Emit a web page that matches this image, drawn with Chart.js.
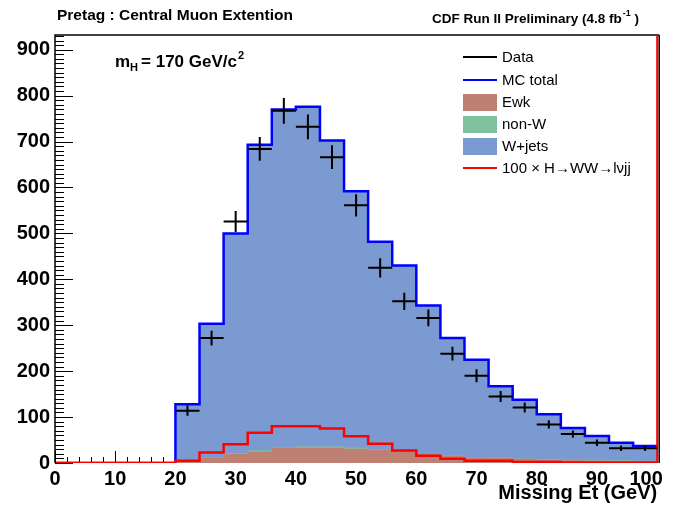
<!DOCTYPE html>
<html>
<head>
<meta charset="utf-8">
<script src="https://cdn.jsdelivr.net/npm/chart.js@4.4.0/dist/chart.umd.min.js"></script>
<style>
  html, body { margin: 0; padding: 0; background: #fff; }
</style>
</head>
<body>
<canvas id="metChart" width="689" height="508"></canvas>
<script>
// Missing Et, 4 GeV bins from 0 to 100 GeV (left bin edges)
const binEdges = [0, 4, 8, 12, 16, 20, 24, 28, 32, 36, 40, 44, 48, 52, 56, 60, 64, 68, 72, 76, 80, 84, 88, 92, 96];
const binWidth = 4;
const xMax = 100;

// stacked backgrounds, events per bin
const ewk    = [0, 0, 0, 0, 0, 3, 12, 20, 25, 33, 33, 33, 31, 29, 26, 21, 15, 12, 11, 9, 7, 6, 5, 4, 4];
const nonW   = [0, 0, 0, 0, 0, 0, 1, 2, 3, 1, 3, 3, 2, 1, 1, 1, 1, 1, 1, 1, 1, 1, 1, 2, 1];
const wjets  = [0, 0, 0, 0, 0, 125, 290, 478, 665, 736, 740, 666, 559, 452, 403, 321, 256, 212, 155, 128, 98, 69, 53, 38, 32];

// signal scaled by 100
const higgs100 = [0, 0, 0, 0, 0, 5, 23, 41, 66, 80, 80, 75, 58, 42, 27, 16, 9, 5, 5, 2, 2, 1, 1, 1, 1];

// observed events and their errors
const dataCounts = [0, 0, 0, 0, 0, 114, 272, 526, 684, 767, 732, 666, 561, 425, 352, 316, 238, 190, 145, 121, 84, 63, 44, 32, 32];
const dataErrors = [0, 0, 0, 0, 0, 11, 16, 23, 26, 28, 27, 26, 24, 21, 19, 18, 15, 14, 12, 11, 9, 8, 7, 6, 6];

const yMax = 932;

const FONT = '"Liberation Sans", Arial, Helvetica, sans-serif';

// cumulative stack: ewk, ewk+nonW, ewk+nonW+wjets
const stackEwk = ewk.slice();
const stackNonW = ewk.map((v, i) => v + nonW[i]);
const mcTotal = stackNonW.map((v, i) => v + wjets[i]);

// histogram outline: one point per left edge, plus the closing edge
function histPoints(values) {
  const pts = values.map((v, i) => ({x: binEdges[i], y: v}));
  pts.push({x: xMax, y: values[values.length - 1]});
  return pts;
}

const fillStyle = {fill: 'origin', stepped: true, pointRadius: 0, borderWidth: 0, borderColor: 'rgba(0,0,0,0)'};

// axis ticks drawn inside the frame, ROOT style
const axisTicks = {
  id: 'axisTicks',
  beforeDatasetsDraw(chart) {
    const {ctx, chartArea: a, scales: {x, y}} = chart;
    ctx.save();
    ctx.strokeStyle = '#000';
    ctx.lineWidth = 1;
    ctx.beginPath();
    for (let v = 0; v <= xMax; v += 2) {
      const px = Math.round(x.getPixelForValue(v)) + 0.5;
      const len = v % 10 === 0 ? 12 : 6;
      ctx.moveTo(px, a.bottom);
      ctx.lineTo(px, a.bottom - len);
    }
    for (let v = 0; v <= yMax; v += 10) {
      const py = Math.round(y.getPixelForValue(v)) + 0.5;
      const len = v % 100 === 0 ? 18 : 9;
      ctx.moveTo(a.left, py);
      ctx.lineTo(a.left + len, py);
    }
    ctx.stroke();
    ctx.restore();
  },
  afterDatasetsDraw(chart) {
    const {ctx, chartArea: a} = chart;
    ctx.save();
    ctx.lineWidth = 1.5;
    ctx.strokeStyle = '#000';
    ctx.beginPath();
    ctx.moveTo(a.left, a.bottom);
    ctx.lineTo(a.left, a.top);
    ctx.lineTo(a.right + 2, a.top);
    ctx.moveTo(a.right + 2, a.top);
    ctx.lineTo(a.right + 2, a.bottom);
    ctx.stroke();
    ctx.strokeStyle = '#ff0000';
    ctx.lineWidth = 2;
    ctx.beginPath();
    ctx.moveTo(a.right, a.top);
    ctx.lineTo(a.right, a.bottom);
    ctx.stroke();
    ctx.restore();
  }
};

// data points with error bars
const dataCrosses = {
  id: 'dataCrosses',
  afterDatasetsDraw(chart) {
    const {ctx, scales: {x, y}} = chart;
    ctx.save();
    ctx.strokeStyle = '#000';
    ctx.lineWidth = 2;
    ctx.beginPath();
    dataCounts.forEach((n, i) => {
      if (n <= 0) return;
      const x0 = x.getPixelForValue(binEdges[i]);
      const x1 = x.getPixelForValue(binEdges[i] + binWidth);
      const xc = x.getPixelForValue(binEdges[i] + binWidth / 2);
      const yc = y.getPixelForValue(n);
      ctx.moveTo(x0, yc);
      ctx.lineTo(x1, yc);
      ctx.moveTo(xc, y.getPixelForValue(n - dataErrors[i]));
      ctx.lineTo(xc, y.getPixelForValue(n + dataErrors[i]));
    });
    ctx.stroke();
    ctx.restore();
  }
};

// titles, mass label and legend
const annotations = {
  id: 'annotations',
  afterDraw(chart) {
    const {ctx} = chart;
    ctx.save();
    ctx.fillStyle = '#000';
    ctx.textBaseline = 'alphabetic';
    ctx.textAlign = 'left';

    ctx.font = 'bold 15.5px ' + FONT;
    ctx.fillText('Pretag : Central Muon Extention', 57, 20);

    let cx = 432;
    ctx.font = 'bold 13.5px ' + FONT;
    ctx.fillText('CDF Run II Preliminary (4.8 fb', cx, 23);
    cx += ctx.measureText('CDF Run II Preliminary (4.8 fb').width;
    ctx.font = 'bold 9px ' + FONT;
    ctx.fillText('-1', cx + 1, 16);
    cx += ctx.measureText('-1').width + 1;
    ctx.font = 'bold 13.5px ' + FONT;
    ctx.fillText(' )', cx, 23);

    let mx = 115;
    ctx.font = 'bold 17px ' + FONT;
    ctx.fillText('m', mx, 67);
    mx += ctx.measureText('m').width;
    ctx.font = 'bold 11px ' + FONT;
    ctx.fillText('H', mx, 71);
    mx += ctx.measureText('H').width + 3;
    ctx.font = 'bold 17px ' + FONT;
    ctx.fillText('= 170 GeV/c', mx, 67);
    mx += ctx.measureText('= 170 GeV/c').width;
    ctx.font = 'bold 11px ' + FONT;
    ctx.fillText('2', mx + 1, 59);

    const entries = [
      {label: 'Data', line: '#000000', y: 57},
      {label: 'MC total', line: '#0000ff', y: 80},
      {label: 'Ewk', box: '#bf8074', y: 102},
      {label: 'non-W', box: '#80c2a0', y: 124},
      {label: 'W+jets', box: '#7b9ad2', y: 146},
      {label: '100 \u00d7 H\u2192WW\u2192l\u03bdjj', line: '#ff0000', y: 168}
    ];
    ctx.font = '15px ' + FONT;
    ctx.textBaseline = 'middle';
    entries.forEach(e => {
      if (e.box) {
        ctx.fillStyle = e.box;
        ctx.fillRect(463, e.y - 8, 34, 17);
      } else {
        ctx.strokeStyle = e.line;
        ctx.lineWidth = 2;
        ctx.beginPath();
        ctx.moveTo(463, e.y);
        ctx.lineTo(497, e.y);
        ctx.stroke();
      }
      ctx.fillStyle = '#000';
      ctx.fillText(e.label, 502, e.y + 1);
    });
    ctx.restore();
  }
};

const ctx = document.getElementById('metChart').getContext('2d');
const metChart = new Chart(ctx, {
  type: 'line',
  data: {
    datasets: [
      Object.assign({label: 'W+jets', data: histPoints(mcTotal), backgroundColor: '#7b9ad2', order: 10}, fillStyle),
      Object.assign({label: 'non-W', data: histPoints(stackNonW), backgroundColor: '#80c2a0', order: 9}, fillStyle),
      Object.assign({label: 'Ewk', data: histPoints(stackEwk), backgroundColor: '#bf8074', order: 8}, fillStyle),
      {
        label: 'MC total',
        data: histPoints(mcTotal),
        borderColor: '#0000ff',
        borderWidth: 2.5,
        stepped: true,
        fill: false,
        pointRadius: 0,
        order: 5
      },
      {
        label: '100 x H->WW->lvjj',
        data: histPoints(higgs100),
        borderColor: '#ff0000',
        borderWidth: 2.5,
        stepped: true,
        fill: false,
        pointRadius: 0,
        order: 3
      },
      {
        label: 'Data',
        data: dataCounts.map((n, i) => ({x: binEdges[i] + binWidth / 2, y: n})),
        showLine: false,
        pointRadius: 0,
        order: 1
      }
    ]
  },
  options: {
    responsive: false,
    animation: false,
    devicePixelRatio: 1,
    layout: {padding: {top: 35, right: 31, left: 0, bottom: 0}},
    plugins: {legend: {display: false}, tooltip: {enabled: false}},
    scales: {
      x: {
        type: 'linear',
        min: 0,
        max: xMax,
        grid: {display: false, drawTicks: false},
        border: {display: false},
        ticks: {
          stepSize: 10,
          padding: 4,
          maxRotation: 0,
          autoSkip: false,
          color: '#000',
          font: {family: FONT, size: 20, weight: 'bold'},
          // last label sits a little inside the pad edge
          callback: v => v === xMax ? v + '\u2007\u2007' : String(v)
        },
        title: {
          display: true,
          text: 'Missing Et (GeV)',
          align: 'end',
          color: '#000',
          padding: {top: 0, bottom: 3},
          font: {family: FONT, size: 20, weight: 'bold'}
        },
        afterFit(scale) { scale.height = 45; }
      },
      y: {
        min: 0,
        max: yMax,
        grid: {display: false, drawTicks: false},
        border: {display: false},
        ticks: {
          stepSize: 100,
          includeBounds: false,
          padding: 5,
          color: '#000',
          font: {family: FONT, size: 20, weight: 'bold'}
        },
        afterFit(scale) { scale.width = 55; }
      }
    }
  },
  plugins: [axisTicks, dataCrosses, annotations]
});
</script>
</body>
</html>
